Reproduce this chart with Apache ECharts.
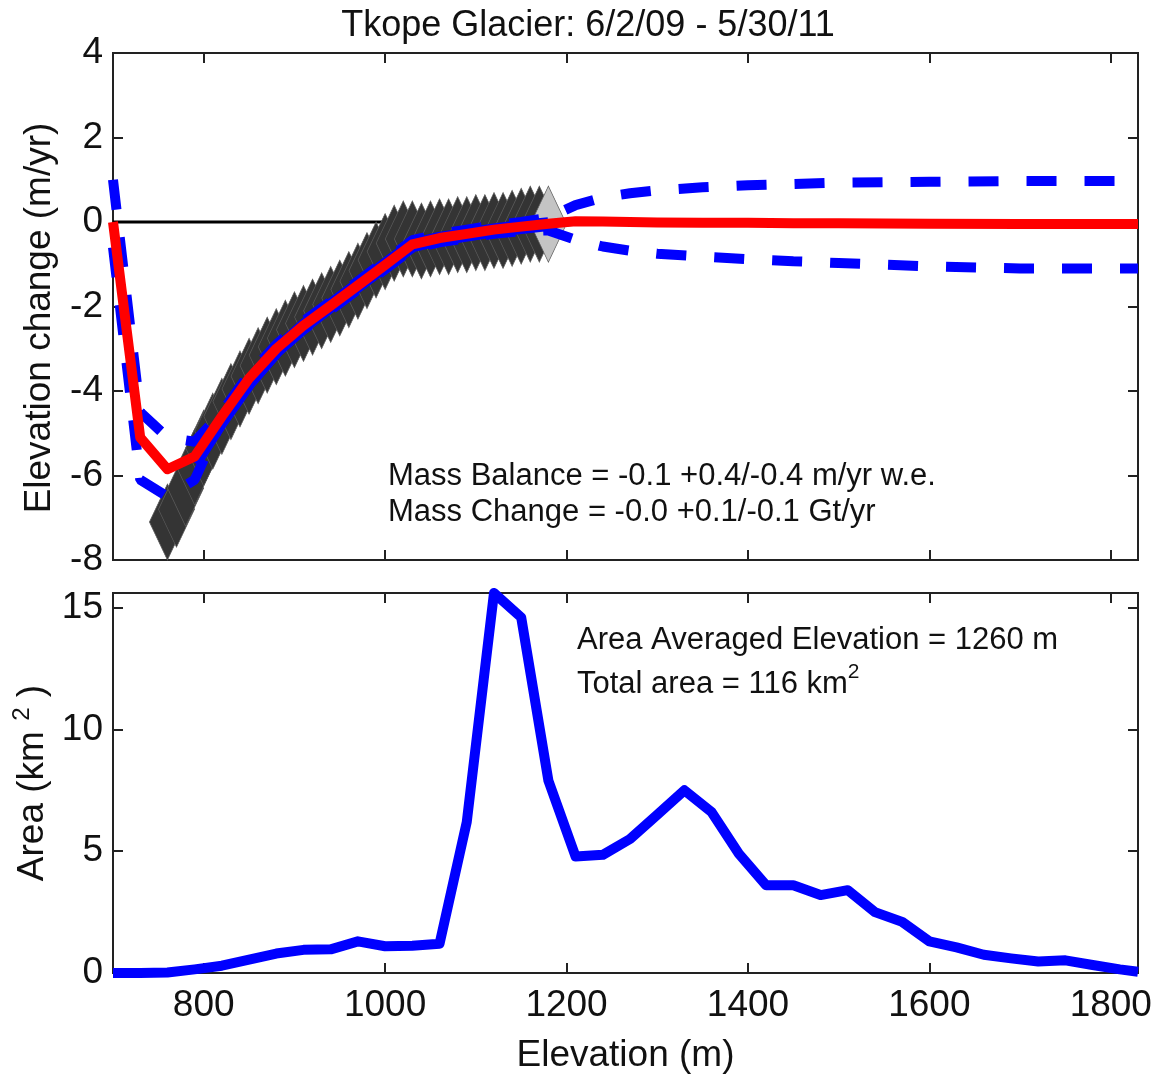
<!DOCTYPE html>
<html><head><meta charset="utf-8">
<script src="https://cdn.jsdelivr.net/npm/echarts@6/dist/echarts.min.js"></script>
<style>html,body{margin:0;padding:0;background:#fff}#c{width:1164px;height:1080px}</style>
</head><body><div id="c"></div>
<script>
// ---------- data ----------
const chartTitle = 'Tkope Glacier: 6/2/09 - 5/30/11';
const xTicks = [800, 1000, 1200, 1400, 1600, 1800];
const yTicksTop = [-8, -6, -4, -2, 0, 2, 4];
const yTicksBottom = [0, 5, 10, 15];
const topAxisName = 'Elevation change (m/yr)';

// observed elevation change (diamond markers)
const obsElev = [760,770,780,790,800,810,820,830,840,850,860,870,880,890,900,910,920,930,940,950,960,970,980,990,1000,1010,1020,1030,1040,1050,1060,1070,1080,1090,1100,1110,1120,1130,1140,1150,1160,1170,1180];
const obsChange = [-7.1,-6.8,-6.3,-5.8,-5.35,-4.95,-4.6,-4.25,-3.95,-3.65,-3.4,-3.15,-2.95,-2.75,-2.55,-2.4,-2.25,-2.1,-1.95,-1.8,-1.6,-1.4,-1.15,-0.9,-0.7,-0.5,-0.4,-0.4,-0.45,-0.4,-0.35,-0.35,-0.3,-0.3,-0.25,-0.25,-0.2,-0.2,-0.15,-0.1,-0.05,-0.05,-0.05];

// modelled profile (red) and bounds (blue dashed)
const modelElev = [700,730,760,790,820,850,880,910,940,970,1000,1030,1060,1090,1120,1150,1180,1210,1240,1270,1300,1350,1400,1450,1500,1600,1700,1830];
const modelChange = [0,-5.1,-5.85,-5.55,-4.6,-3.7,-3.0,-2.45,-1.98,-1.5,-1.02,-0.53,-0.38,-0.28,-0.18,-0.11,-0.04,0.02,0.01,0,-0.01,-0.02,-0.02,-0.03,-0.03,-0.04,-0.05,-0.05];
const upperBound = [1.0,-4.5,-5.1,-5.2,-4.5,-3.6,-2.9,-2.35,-1.88,-1.4,-0.92,-0.43,-0.28,-0.18,-0.08,0.0,0.1,0.4,0.58,0.68,0.75,0.82,0.87,0.9,0.93,0.95,0.97,0.97];
const lowerBound = [-0.6,-6.1,-6.5,-6.1,-4.7,-3.8,-3.1,-2.55,-2.08,-1.6,-1.12,-0.63,-0.48,-0.38,-0.28,-0.22,-0.2,-0.42,-0.58,-0.68,-0.75,-0.82,-0.88,-0.93,-0.97,-1.05,-1.1,-1.1];

// binned mean of observations (solid blue under red)
const meanElev = [790,820,850,880,910,940,970,1000,1030,1060,1090,1120,1150,1180];
const meanChange = [-5.7,-4.7,-3.8,-3.05,-2.47,-1.98,-1.5,-1.02,-0.55,-0.4,-0.3,-0.2,-0.12,-0.05];

// zero reference line
const zeroElev = [700, 1200];
const zeroChange = [0, 0];

// hypsometry
const areaElev = [700,730,760,790,820,850,880,910,940,970,1000,1030,1060,1090,1120,1150,1180,1210,1240,1270,1300,1330,1360,1390,1420,1450,1480,1510,1540,1570,1600,1630,1660,1690,1720,1750,1780,1810,1830];
const areaKm2 = [0,0,0.02,0.15,0.3,0.55,0.8,0.95,0.97,1.3,1.1,1.12,1.2,6.2,15.6,14.6,7.9,4.78,4.85,5.5,6.5,7.5,6.6,4.9,3.6,3.6,3.2,3.4,2.5,2.1,1.3,1.05,0.75,0.6,0.47,0.52,0.33,0.15,0.05];

const textMB = 'Mass Balance = -0.1 +0.4/-0.4 m/yr w.e.';
const textMC = 'Mass Change = -0.0 +0.1/-0.1 Gt/yr';
const textAvg = 'Area Averaged Elevation = 1260 m';
const textArea = 'Total area = 116 km';

// ---------- chart ----------
const FONT = '"Liberation Sans", Arial, Helvetica, sans-serif';
const pair = (xs, ys) => xs.map((x, i) => [x, ys[i]]);
const AX = '#222';
const TXT = '#111';

function tickAxis(gridIndex, pos, ticks, extra) {
  return Object.assign({
    type: 'value', gridIndex, position: pos,
    axisLine: { show: false, onZero: false },
    axisTick: { show: true, inside: true, length: 10, customValues: ticks, lineStyle: { color: AX, width: 2 } },
    axisLabel: { show: false },
    splitLine: { show: false }
  }, extra);
}

const labelStyle = { color: TXT, fontSize: 37, fontFamily: FONT, formatter: (v) => String(v) };

const chart = echarts.init(document.getElementById('c'));
chart.setOption({
  animation: false,
  backgroundColor: '#fff',
  grid: [
    { left: 113, top: 53, width: 1025, height: 507, show: true, borderColor: AX, borderWidth: 2, backgroundColor: 'transparent' },
    { left: 113, top: 593, width: 1025, height: 380, show: true, borderColor: AX, borderWidth: 2, backgroundColor: 'transparent' }
  ],
  xAxis: [
    tickAxis(0, 'bottom', xTicks, { min: 700, max: 1830 }),
    tickAxis(0, 'top', xTicks, { min: 700, max: 1830 }),
    tickAxis(1, 'bottom', xTicks, {
      min: 700, max: 1830,
      axisLabel: Object.assign({ show: true, margin: 14, customValues: xTicks }, labelStyle),
      name: 'Elevation (m)', nameLocation: 'middle', nameGap: 64,
      nameTextStyle: { color: TXT, fontSize: 37, fontFamily: FONT }
    }),
    tickAxis(1, 'top', xTicks, { min: 700, max: 1830 })
  ],
  yAxis: [
    tickAxis(0, 'left', yTicksTop, {
      min: -8, max: 4, interval: 2,
      axisLabel: Object.assign({ show: true, margin: 10, customValues: yTicksTop }, labelStyle)
    }),
    tickAxis(0, 'right', yTicksTop, { min: -8, max: 4, interval: 2 }),
    tickAxis(1, 'left', yTicksBottom, {
      min: 0, max: 15.6,
      axisLabel: Object.assign({ show: true, margin: 10, customValues: yTicksBottom }, labelStyle),
      name: '{a|Area (km }{s|2}{a| )}', nameLocation: 'middle', nameGap: 51,
      nameTextStyle: {
        color: TXT, fontSize: 37, fontFamily: FONT,
        rich: {
          a: { fontSize: 37, fontFamily: FONT, color: TXT, lineHeight: 44 },
          s: { fontSize: 24, fontFamily: FONT, color: TXT, lineHeight: 24, verticalAlign: 'top' }
        }
      }
    }),
    tickAxis(1, 'right', yTicksBottom, { min: 0, max: 15.6 })
  ],
  series: [
    {
      type: 'line', xAxisIndex: 0, yAxisIndex: 0, z: 1, symbol: 'none',
      data: pair(zeroElev, zeroChange),
      lineStyle: { color: '#000', width: 3 }
    },
    {
      type: 'scatter', xAxisIndex: 0, yAxisIndex: 0, z: 2,
      symbol: 'diamond', symbolSize: [36, 76],
      data: pair(obsElev, obsChange),
      itemStyle: {
        color: (p) => p.dataIndex === obsElev.length - 1 ? '#c4c4c4' : '#343434',
        borderColor: '#5c5c5c', borderWidth: 0.8, opacity: 1
      }
    },
    {
      type: 'line', xAxisIndex: 0, yAxisIndex: 0, z: 3, symbol: 'none',
      data: pair(meanElev, meanChange),
      lineStyle: { color: '#0000ff', width: 14, join: 'round' }
    },
    {
      type: 'line', xAxisIndex: 0, yAxisIndex: 0, z: 4, symbol: 'none',
      data: pair(modelElev, upperBound),
      lineStyle: { color: '#0000ff', width: 10, type: [30, 28], cap: 'butt' }
    },
    {
      type: 'line', xAxisIndex: 0, yAxisIndex: 0, z: 4, symbol: 'none',
      data: pair(modelElev, lowerBound),
      lineStyle: { color: '#0000ff', width: 10, type: [30, 28], cap: 'butt' }
    },
    {
      type: 'line', xAxisIndex: 0, yAxisIndex: 0, z: 5, symbol: 'none',
      data: pair(modelElev, modelChange),
      lineStyle: { color: '#ff0000', width: 10, join: 'round' }
    },
    {
      type: 'line', xAxisIndex: 2, yAxisIndex: 2, z: 5, symbol: 'none',
      data: pair(areaElev, areaKm2),
      lineStyle: { color: '#0000ff', width: 10, join: 'round' }
    }
  ],
  graphic: [
    { type: 'text', x: 588, y: 26, z: 10, style: { text: chartTitle, fill: TXT, fontSize: 36, fontFamily: FONT, textAlign: 'center', textVerticalAlign: 'middle' } },
    { type: 'text', x: 40, y: 318, rotation: Math.PI / 2, z: 10, style: { text: topAxisName, fill: TXT, fontSize: 37, fontFamily: FONT, textAlign: 'center', textVerticalAlign: 'middle' } },
    { type: 'text', x: 388, y: 476, z: 10, style: { text: textMB, fill: TXT, fontSize: 31, fontFamily: FONT, textAlign: 'left', textVerticalAlign: 'middle' } },
    { type: 'text', x: 388, y: 512, z: 10, style: { text: textMC, fill: TXT, fontSize: 31, fontFamily: FONT, textAlign: 'left', textVerticalAlign: 'middle' } },
    { type: 'text', x: 577, y: 640, z: 10, style: { text: textAvg, fill: TXT, fontSize: 31, fontFamily: FONT, textAlign: 'left', textVerticalAlign: 'middle' } },
    { type: 'text', x: 577, y: 684, z: 10, style: {
        text: '{a|' + textArea + '}{s|2}', fill: TXT, textAlign: 'left', textVerticalAlign: 'middle',
        rich: {
          a: { fontSize: 31, fontFamily: FONT, fill: TXT, lineHeight: 44 },
          s: { fontSize: 21, fontFamily: FONT, fill: TXT, lineHeight: 21, verticalAlign: 'top' }
        }
      } }
  ]
});
</script>
</body></html>
